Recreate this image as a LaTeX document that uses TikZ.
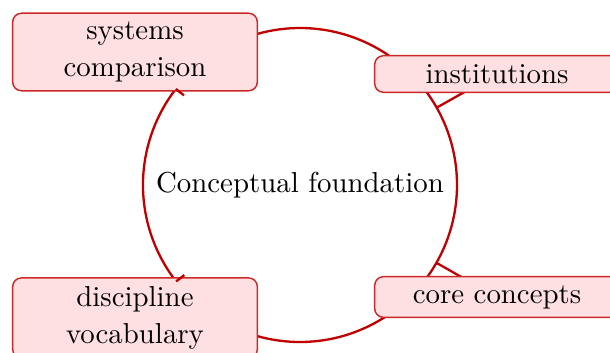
\documentclass[tikz,border=0pt]{standalone}
\definecolor{boxfill}{RGB}{254,224,226}
\definecolor{boxline}{RGB}{205,40,40}
\definecolor{linkred}{RGB}{192,0,0}
\begin{document}
\begin{tikzpicture}[x=0.3467pt,y=0.3467pt,
  box/.style={draw=boxline, line width=0.5pt, fill=boxfill, rounded corners=3pt,
    text width=78.8pt, align=center, inner sep=3pt,
    font=\fontsize{10}{12.8}\selectfont},
  link/.style={draw=linkred, line width=0.8pt},
  barb/.style={draw=linkred, line width=0.8pt},
]
\useasboundingbox (0,0) rectangle (610,-352);
\coordinate (C) at (300,-185);
% circular connectors (behind the boxes)
\draw[link] (C) ++(110:54.43pt) arc[start angle=110, end angle=45, radius=54.43pt];
\draw[link] (C) ++(45:54.43pt) arc[start angle=45, end angle=-45, radius=54.43pt];
\draw[link] (C) ++(-45:54.43pt) arc[start angle=-45, end angle=-110, radius=54.43pt];
\draw[link] (C) ++(250:54.43pt) arc[start angle=250, end angle=110, radius=54.43pt];
% barbs under the right-hand boxes
\draw[barb] (C) ++(29.5:54.43pt) -- ++(29.5:16pt);
\draw[barb] (C) ++(-29.7:54.43pt) -- ++(-29.7:16pt);
% boxes
\node[box] (sys) at (135,-52) {systems\\comparison};
\node[box] (inst) at (497,-74) {institutions};
\node[box] (core) at (497,-297) {core concepts};
\node[box] (disc) at (135,-318) {discipline\\vocabulary};
\node[font=\fontsize{10}{12}\selectfont] (title) at (C) {Conceptual foundation};
% barbs at the left-hand boxes
\draw[barb] (C) ++(142.3:54.43pt) -- ++(142.3:-3.6pt);
\draw[barb] (C) ++(217.9:54.43pt) -- ++(217.9:-3.6pt);
\end{tikzpicture}
\end{document}
